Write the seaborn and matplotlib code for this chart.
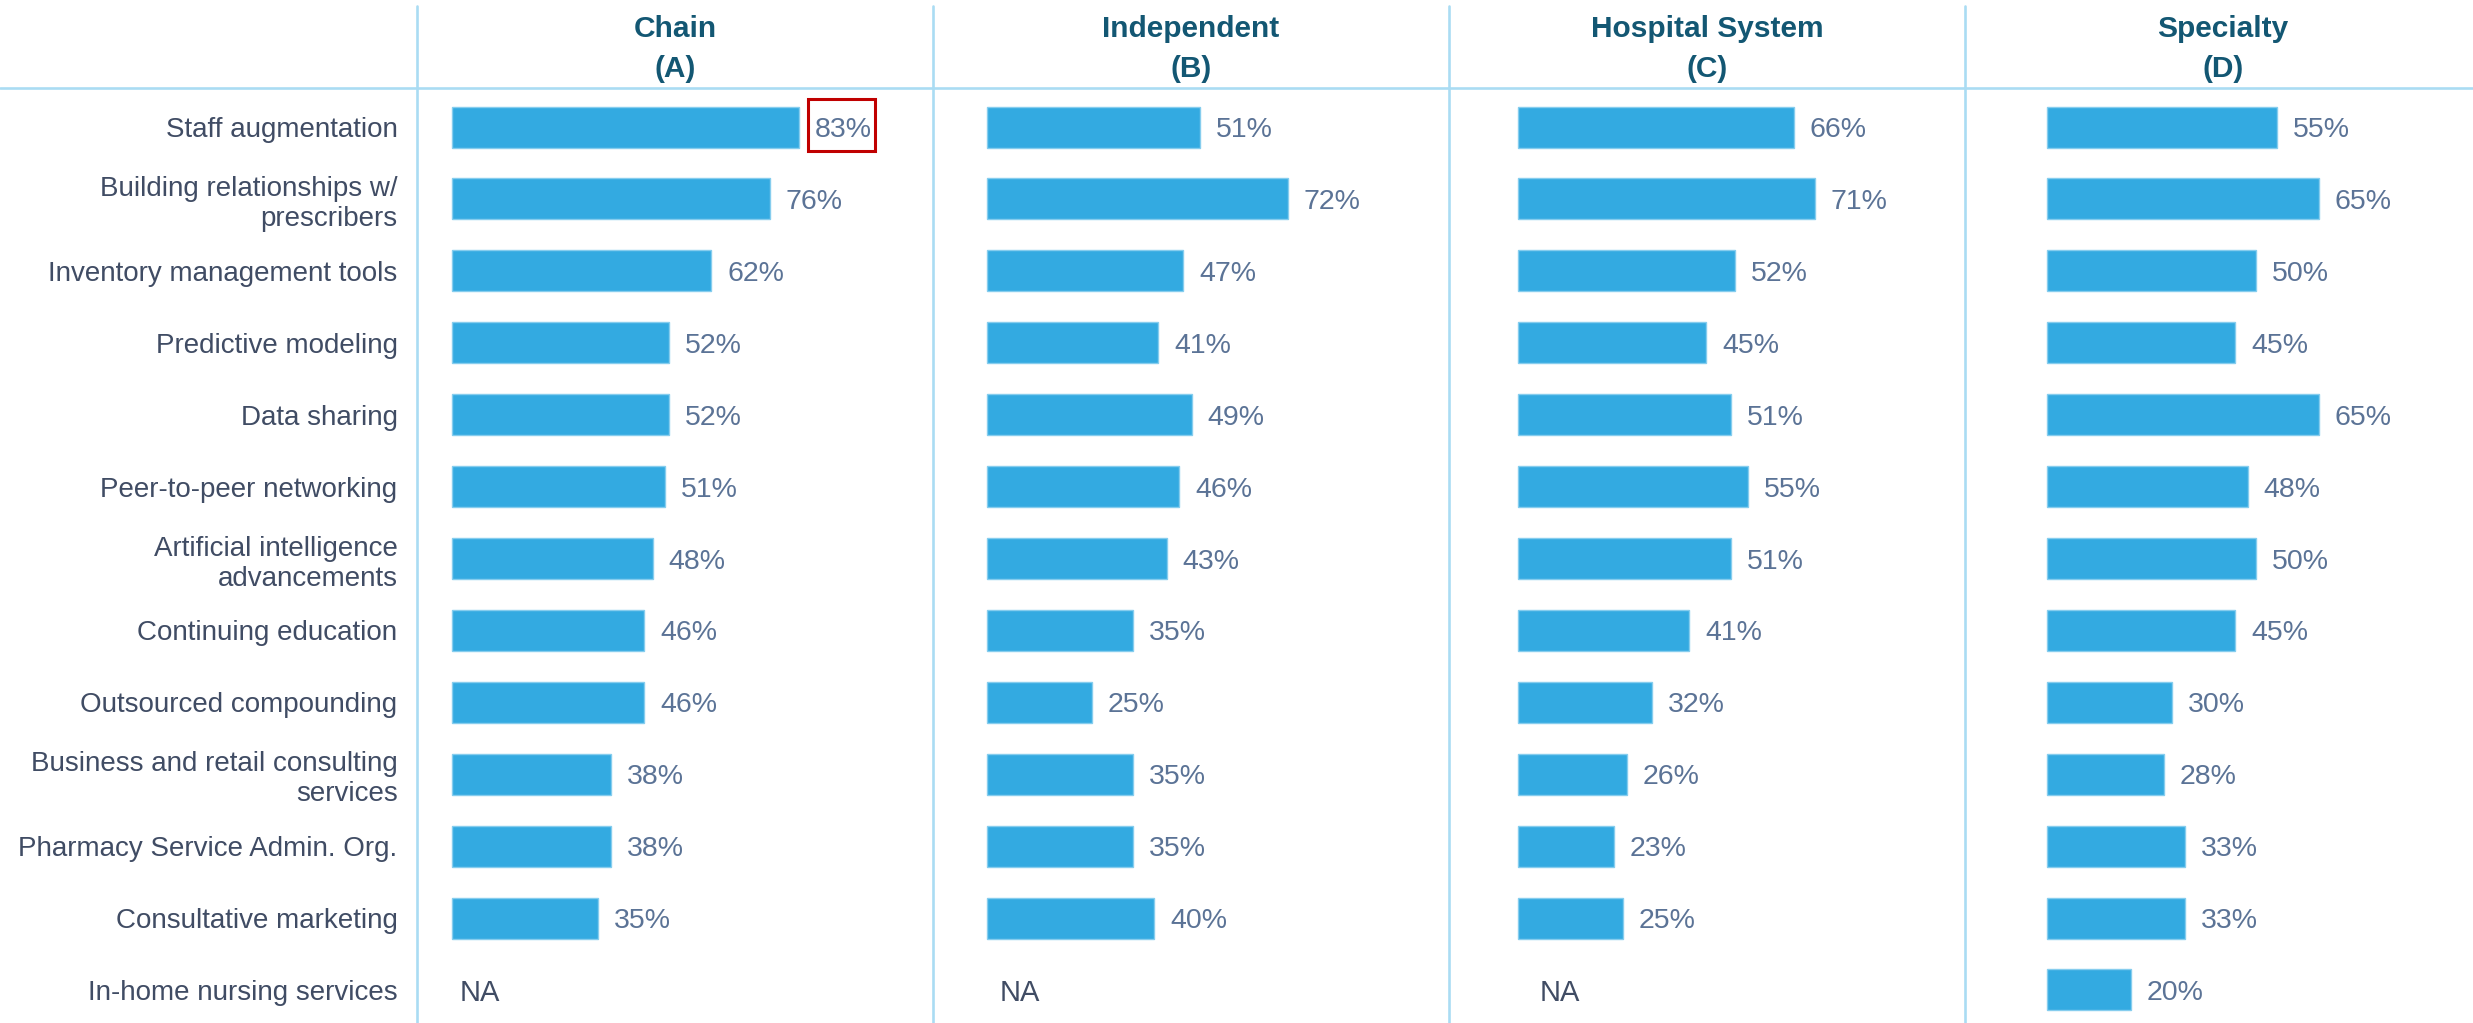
import numpy as np
import pandas as pd
import matplotlib
matplotlib.use("Agg")
import matplotlib.pyplot as plt
import seaborn as sns
from matplotlib.lines import Line2D
from matplotlib.patches import Rectangle

categories = [
    "Staff augmentation",
    "Building relationships w/\nprescribers",
    "Inventory management tools",
    "Predictive modeling",
    "Data sharing",
    "Peer-to-peer networking",
    "Artificial intelligence\nadvancements",
    "Continuing education",
    "Outsourced compounding",
    "Business and retail consulting\nservices",
    "Pharmacy Service Admin. Org.",
    "Consultative marketing",
    "In-home nursing services",
]
segments = ["Chain\n(A)", "Independent\n(B)", "Hospital System\n(C)", "Specialty\n(D)"]
chain = [83, 76, 62, 52, 52, 51, 48, 46, 46, 38, 38, 35, np.nan]
independent = [51, 72, 47, 41, 49, 46, 43, 35, 25, 35, 35, 40, np.nan]
hospital = [66, 71, 52, 45, 51, 55, 51, 41, 32, 26, 23, 25, np.nan]
specialty = [55, 65, 50, 45, 65, 48, 50, 45, 30, 28, 33, 33, 20]
highlight = (0, 0)  # (segment index, category index) boxed in red

sns.set_theme(style="white")
plt.rcParams["font.family"] = ["Liberation Sans", "DejaVu Sans"]

BAR = "#33aae1"
LINE = "#aadcf3"
PCT = "#5b7396"
LABEL = "#404c64"
HEAD = "#135773"

W, H = 2473, 1023
fig = plt.figure(figsize=(W / 100, H / 100), dpi=100)

panel_left = [417, 933, 1449, 1965]
panel_w = 516
bar_offset = [35, 54, 69, 82]   # px from panel line to bar start
na_offset = [8, 13, 22, 0]
px_per_pct = 4.18
top_px, row0_px, row_px = 88, 127, 71.9

values = [chain, independent, hospital, specialty]
n = len(categories)

for k, (seg, vals) in enumerate(zip(segments, values)):
    ax = fig.add_axes([panel_left[k] / W, 0, panel_w / W, 1 - top_px / H])
    df = pd.DataFrame({"category": categories, "value": vals})
    sns.barplot(data=df.dropna(), x="value", y="category", order=categories,
                color=BAR, saturation=1, width=0.57, edgecolor="#86cdee",
                linewidth=1, ax=ax)
    ax.set_xlim(-bar_offset[k] / px_per_pct, (panel_w - bar_offset[k]) / px_per_pct)
    ax.set_ylim(n - 1 + (H - 990) / row_px, -(row0_px - top_px) / row_px)
    for i, v in enumerate(vals):
        if np.isnan(v):
            ax.text(na_offset[k] / px_per_pct, i, "NA", ha="left", va="center_baseline",
                    fontsize=21, color=LABEL)
            continue
        ax.annotate(f"{v:.0f}%", xy=(v, i), xytext=(11.5, 0), textcoords="offset points",
                    ha="left", va="center_baseline", fontsize=20.5, color=PCT)
        if (k, i) == highlight:
            ax.add_patch(Rectangle((v + 9 / px_per_pct, i - 0.39), 67 / px_per_pct, 0.72,
                                   fill=False, ec="#c00000", lw=2.2, clip_on=False))
    ax.set_xlabel("")
    ax.set_ylabel("")
    ax.set_xticks([])
    for s in ax.spines.values():
        s.set_visible(False)
    if k == 0:
        ax.tick_params(axis="y", length=0, pad=14, labelsize=20, labelcolor=LABEL)
    else:
        ax.set_yticks([])
    cx = (panel_left[k] + panel_w / 2) / W
    name, code = seg.split("\n")
    fig.text(cx, 1 - 37 / H, name, ha="center", va="baseline", fontsize=21.5,
             fontweight="bold", color=HEAD)
    fig.text(cx, 1 - 77 / H, code, ha="center", va="baseline", fontsize=21.5,
             fontweight="bold", color=HEAD)

for x in panel_left:
    fig.add_artist(Line2D([x / W, x / W], [0, 1 - 6 / H], color=LINE, lw=1.9))
fig.add_artist(Line2D([0, 1], [1 - top_px / H, 1 - top_px / H], color=LINE, lw=1.9))

fig.savefig("out.png", dpi=100, facecolor="white")
